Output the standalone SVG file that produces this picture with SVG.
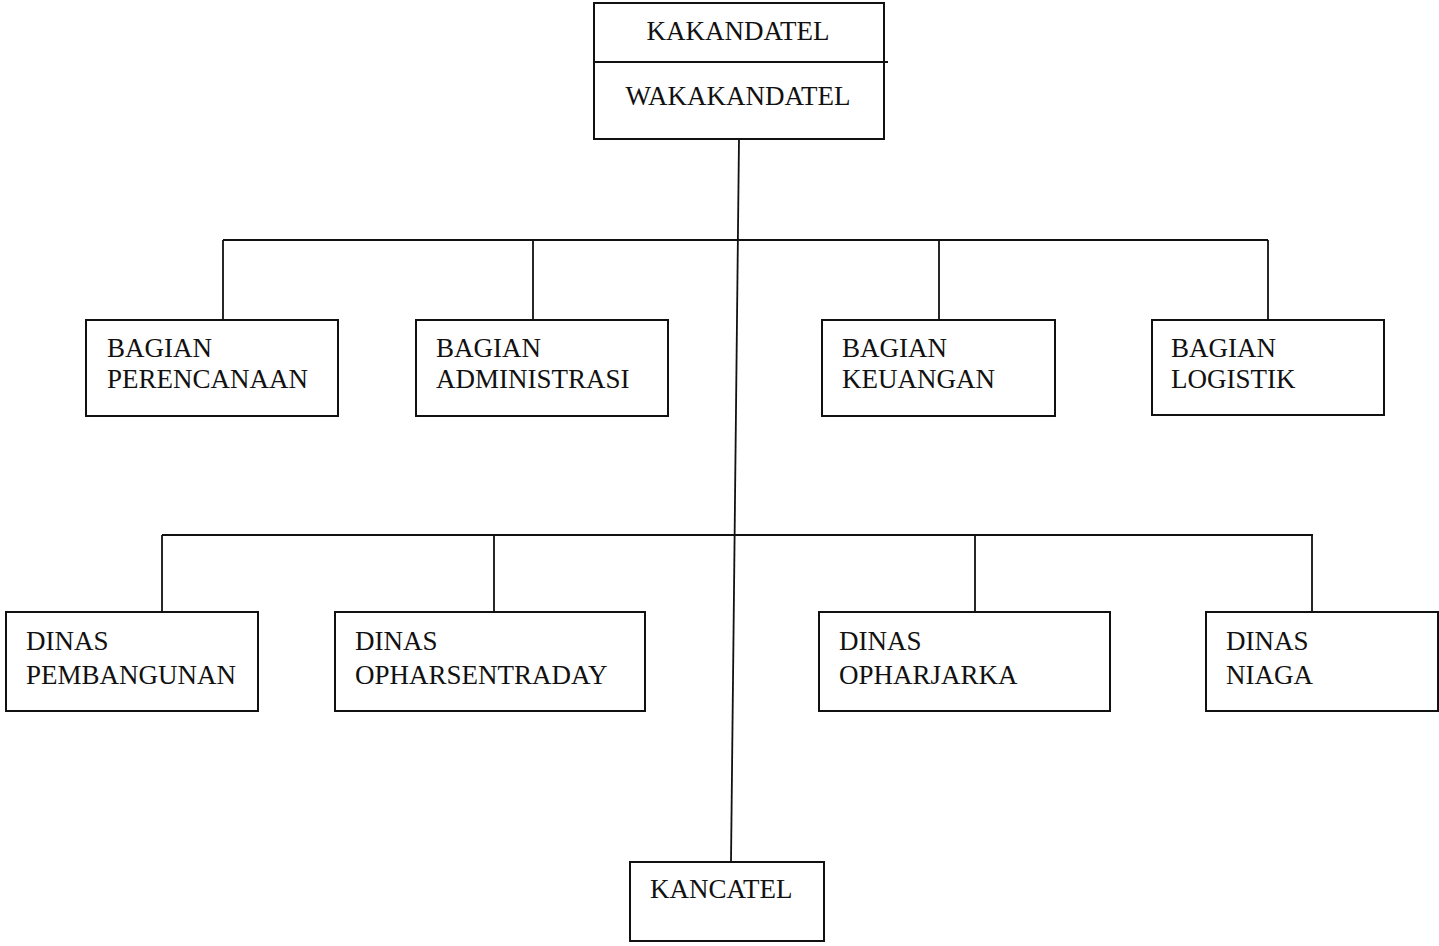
<svg xmlns="http://www.w3.org/2000/svg" width="1439" height="946" viewBox="0 0 1439 946">
<style>
  .box { fill: #fff; stroke: #111; stroke-width: 2; }
  .ln { fill: none; stroke: #111; stroke-width: 1.8; }
  .t { font-family: "Liberation Serif", "Times New Roman", serif; font-size: 27px; fill: #111; }
  .c { text-anchor: middle; }
</style>
<rect width="1439" height="946" fill="#fff"/>
<g id="connectors">
  <path class="ln" d="M739 139 L731 862"/>
  <path class="ln" d="M223 240 H1268 M223 240 V320 M533 240 V320 M939 240 V320 M1268 240 V320"/>
  <path class="ln" d="M162 535 H1313 M162 535 V612 M494 535 V612 M975 535 V612 M1312 535 V612"/>
</g>
<g id="kakandatel">
  <rect class="box" x="594" y="3" width="290" height="136"/>
  <path class="ln" d="M594 62 H888"/>
  <text class="t c" x="738" y="40">KAKANDATEL</text>
  <text class="t c" x="738" y="105">WAKAKANDATEL</text>
</g>
<g id="bagian-perencanaan">
  <rect class="box" x="86" y="320" width="252" height="96"/>
  <text class="t" x="107" y="357">BAGIAN</text>
  <text class="t" x="107" y="388">PERENCANAAN</text>
</g>
<g id="bagian-administrasi">
  <rect class="box" x="416" y="320" width="252" height="96"/>
  <text class="t" x="436" y="357">BAGIAN</text>
  <text class="t" x="436" y="388">ADMINISTRASI</text>
</g>
<g id="bagian-keuangan">
  <rect class="box" x="822" y="320" width="233" height="96"/>
  <text class="t" x="842" y="357">BAGIAN</text>
  <text class="t" x="842" y="388">KEUANGAN</text>
</g>
<g id="bagian-logistik">
  <rect class="box" x="1152" y="320" width="232" height="95"/>
  <text class="t" x="1171" y="357">BAGIAN</text>
  <text class="t" x="1171" y="388">LOGISTIK</text>
</g>
<g id="dinas-pembangunan">
  <rect class="box" x="6" y="612" width="252" height="99"/>
  <text class="t" x="26" y="650">DINAS</text>
  <text class="t" x="26" y="684">PEMBANGUNAN</text>
</g>
<g id="dinas-opharsentraday">
  <rect class="box" x="335" y="612" width="310" height="99"/>
  <text class="t" x="355" y="650">DINAS</text>
  <text class="t" x="355" y="684">OPHARSENTRADAY</text>
</g>
<g id="dinas-opharjarka">
  <rect class="box" x="819" y="612" width="291" height="99"/>
  <text class="t" x="839" y="650">DINAS</text>
  <text class="t" x="839" y="684">OPHARJARKA</text>
</g>
<g id="dinas-niaga">
  <rect class="box" x="1206" y="612" width="232" height="99"/>
  <text class="t" x="1226" y="650">DINAS</text>
  <text class="t" x="1226" y="684">NIAGA</text>
</g>
<g id="kancatel">
  <rect class="box" x="630" y="862" width="194" height="79"/>
  <text class="t" x="650" y="898">KANCATEL</text>
</g>
</svg>
